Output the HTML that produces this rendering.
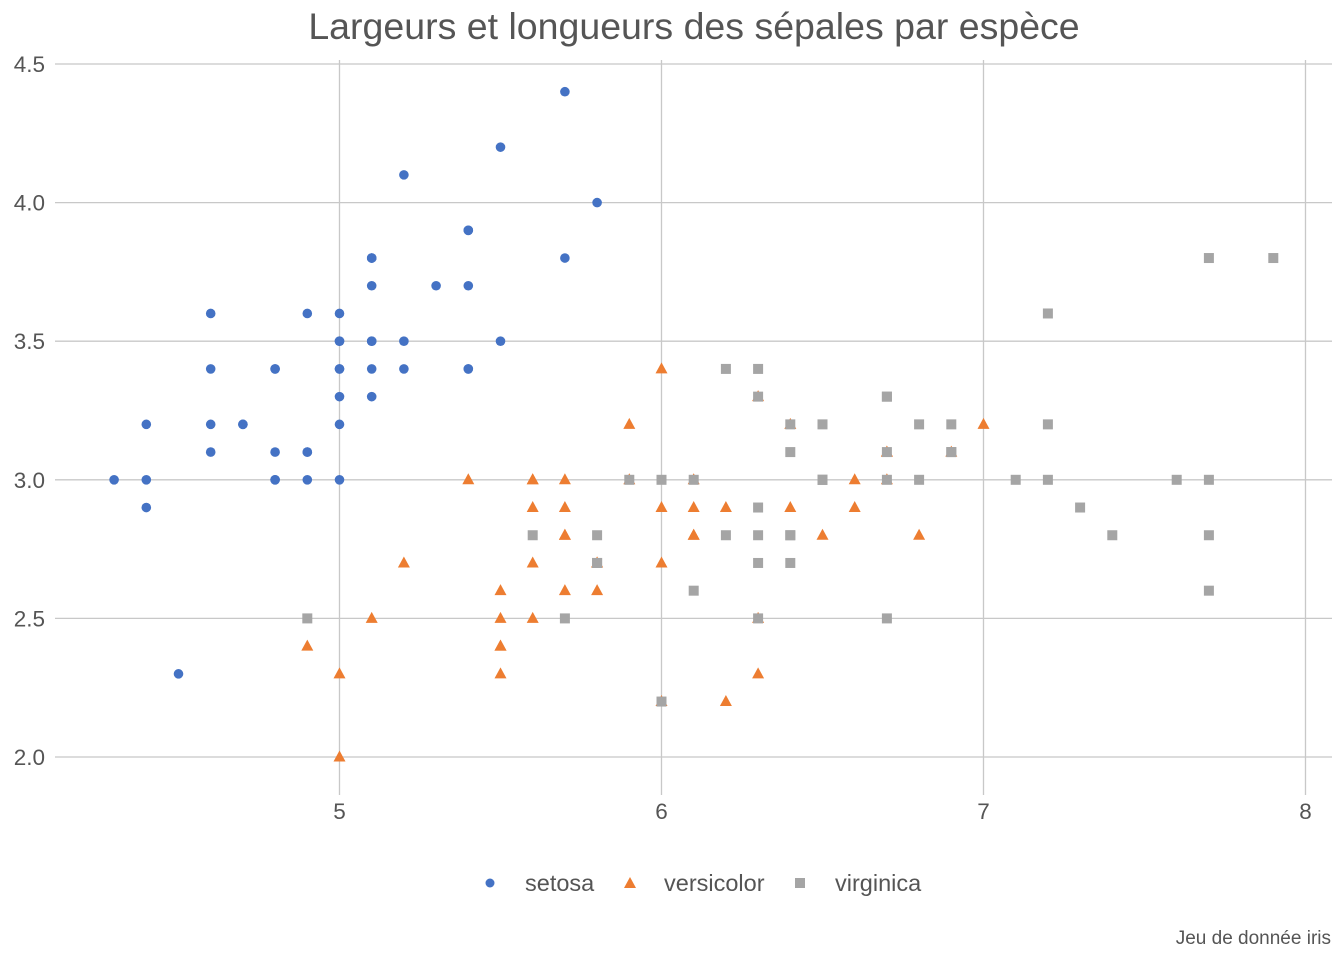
<!DOCTYPE html>
<html><head><meta charset="utf-8"><style>
body{margin:0;background:#fff;}
svg{display:block;font-family:"Liberation Sans",sans-serif;}
</style></head><body>
<svg id="chart" width="1344" height="960">
<text x="694" y="39" text-anchor="middle" font-size="37.5" fill="#555">Largeurs et longueurs des sépales par espèce</text>
<g id="grid"></g><g id="pts"></g>
<g>
<circle cx="490" cy="883" r="4.5" fill="#4472C4"/>
<text x="525" y="891" font-size="23.5" fill="#555">setosa</text>
<polygon points="630,877 636,888 624,888" fill="#ED7D31"/>
<text x="664" y="891" font-size="23.5" fill="#555">versicolor</text>
<rect x="795" y="878" width="10" height="10" fill="#A5A5A5"/>
<text x="835" y="891" font-size="23.5" fill="#555">virginica</text>
</g>
<text x="1331" y="944" text-anchor="end" font-size="19" fill="#555">Jeu de donnée iris</text>
</svg>
<script>
const xTicks=[5,6,7,8];
const yTicks=[2.0,2.5,3.0,3.5,4.0,4.5];
const setosaX=[5.1,4.9,4.7,4.6,5.0,5.4,4.6,5.0,4.4,4.9,5.4,4.8,4.8,4.3,5.8,5.7,5.4,5.1,5.7,5.1,5.4,5.1,4.6,5.1,4.8,5.0,5.0,5.2,5.2,4.7,4.8,5.4,5.2,5.5,4.9,5.0,5.5,4.9,4.4,5.1,5.0,4.5,4.4,5.0,5.1,4.8,5.1,4.6,5.3,5.0];
const setosaY=[3.5,3.0,3.2,3.1,3.6,3.9,3.4,3.4,2.9,3.1,3.7,3.4,3.0,3.0,4.0,4.4,3.9,3.5,3.8,3.8,3.4,3.7,3.6,3.3,3.4,3.0,3.4,3.5,3.4,3.2,3.1,3.4,4.1,4.2,3.1,3.2,3.5,3.6,3.0,3.4,3.5,2.3,3.2,3.5,3.8,3.0,3.8,3.2,3.7,3.3];
const versicolorX=[7.0,6.4,6.9,5.5,6.5,5.7,6.3,4.9,6.6,5.2,5.0,5.9,6.0,6.1,5.6,6.7,5.6,5.8,6.2,5.6,5.9,6.1,6.3,6.1,6.4,6.6,6.8,6.7,6.0,5.7,5.5,5.5,5.8,6.0,5.4,6.0,6.7,6.3,5.6,5.5,5.5,6.1,5.8,5.0,5.6,5.7,5.7,6.2,5.1,5.7];
const versicolorY=[3.2,3.2,3.1,2.3,2.8,2.8,3.3,2.4,2.9,2.7,2.0,3.0,2.2,2.9,2.9,3.1,3.0,2.7,2.2,2.5,3.2,2.8,2.5,2.8,2.9,3.0,2.8,3.0,2.9,2.6,2.4,2.4,2.7,2.7,3.0,3.4,3.1,2.3,3.0,2.5,2.6,3.0,2.6,2.3,2.7,3.0,2.9,2.9,2.5,2.8];
const virginicaX=[6.3,5.8,7.1,6.3,6.5,7.6,4.9,7.3,6.7,7.2,6.5,6.4,6.8,5.7,5.8,6.4,6.5,7.7,7.7,6.0,6.9,5.6,7.7,6.3,6.7,7.2,6.2,6.1,6.4,7.2,7.4,7.9,6.4,6.3,6.1,7.7,6.3,6.4,6.0,6.9,6.7,6.9,5.8,6.8,6.7,6.7,6.3,6.5,6.2,5.9];
const virginicaY=[3.3,2.7,3.0,2.9,3.0,3.0,2.5,2.9,2.5,3.6,3.2,2.7,3.0,2.5,2.8,3.2,3.0,3.8,2.6,2.2,3.2,2.8,2.8,2.7,3.3,3.2,2.8,3.0,2.8,3.0,2.8,3.8,2.8,2.8,2.6,3.0,3.4,3.1,3.0,3.1,3.1,3.1,2.7,3.2,3.3,3.0,2.5,3.0,3.4,3.0];
const NS='http://www.w3.org/2000/svg';
const sx=v=>339.5+(v-5)*322;
const sy=v=>757-(v-2)*277.2;
function mk(t,a,p){const e=document.createElementNS(NS,t);for(const k in a)e.setAttribute(k,a[k]);p.appendChild(e);return e;}
const g=document.getElementById('grid'),P=document.getElementById('pts');
xTicks.forEach(v=>{
 const l=mk('line',{x1:sx(v),x2:sx(v),y1:60,y2:795,stroke:'#c8c8c8','stroke-width':1.3},g);
 
 
 const t=mk('text',{x:sx(v),y:819,'text-anchor':'middle','font-size':22.5,fill:'#555'},g);t.textContent=v;
 
 
});
yTicks.forEach(v=>{
 const l=mk('line',{x1:55,x2:1332,y1:sy(v),y2:sy(v),stroke:'#c8c8c8','stroke-width':1.3},g);
 
 
 const t=mk('text',{x:45,y:sy(v)+8,'text-anchor':'end','font-size':22.5,fill:'#555'},g);t.textContent=v.toFixed(1);
 
 
});
setosaX.forEach((x,i)=>{
 const e=mk('circle',{cx:sx(x),cy:sy(setosaY[i]),r:4.8,fill:'#4472C4'},P);
 
 
});
versicolorX.forEach((x,i)=>{
 const cx=sx(x),cy=sy(versicolorY[i]);
 const e=mk('polygon',{points:`${cx},${cy-6.5} ${cx+6},${cy+4.5} ${cx-6},${cy+4.5}`,fill:'#ED7D31'},P);
 
 
});
virginicaX.forEach((x,i)=>{
 const e=mk('rect',{x:sx(x)-5,y:sy(virginicaY[i])-5,width:10,height:10,fill:'#A5A5A5'},P);
 
 
});
</script>
</body></html>
